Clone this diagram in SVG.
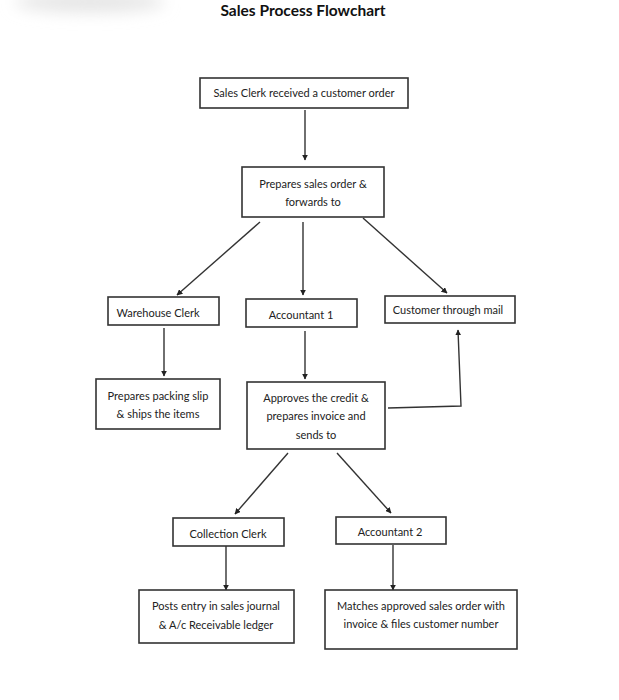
<svg xmlns="http://www.w3.org/2000/svg" width="619" height="700" viewBox="0 0 619 700">
<style>
.box{fill:#fff;stroke:#333;stroke-width:1.6}
.t{font-family:Lato,"Open Sans",sans-serif;font-size:11px;fill:#222;text-anchor:middle;dominant-baseline:central}
.title{font-family:Lato,"Open Sans",sans-serif;font-size:15.5px;font-weight:bold;fill:#111;text-anchor:middle}
.c{fill:none;stroke:#333;stroke-width:1.4;marker-end:url(#ah)}
</style>
<defs>
<marker id="ah" viewBox="0 0 10 10" refX="9" refY="5" markerWidth="6" markerHeight="6" markerUnits="userSpaceOnUse" orient="auto">
<path d="M0,0 L10,5 L0,10 z" fill="#222"/>
</marker>
<filter id="blur" x="-50%" y="-200%" width="200%" height="500%"><feGaussianBlur stdDeviation="8"/></filter>
</defs>
<rect width="619" height="700" fill="#fff"/>
<ellipse cx="90" cy="2" rx="75" ry="10" fill="#e4e4e4" filter="url(#blur)"/>
<text class="title" x="303" y="16">Sales Process Flowchart</text>
<g id="connectors">
<line class="c" x1="305" y1="110" x2="305" y2="160"/>
<line class="c" x1="260" y1="222" x2="177" y2="295"/>
<line class="c" x1="303" y1="222" x2="303" y2="295"/>
<line class="c" x1="363" y1="218" x2="447" y2="293"/>
<line class="c" x1="164" y1="328" x2="164" y2="376"/>
<line class="c" x1="305" y1="331" x2="305" y2="379"/>
<polyline class="c" points="388,408 461,406 458,330"/>
<line class="c" x1="288" y1="453" x2="235" y2="514"/>
<line class="c" x1="337" y1="453" x2="391" y2="513"/>
<line class="c" x1="226" y1="546" x2="226" y2="590"/>
<line class="c" x1="393" y1="545" x2="393" y2="590"/>
</g>
<g id="n1"><rect class="box" x="200" y="78" width="208" height="30"/><text class="t" x="304" y="92">Sales Clerk received a customer order</text></g>
<g id="n2"><rect class="box" x="242" y="167" width="142" height="50"/><text class="t" x="313" y="183">Prepares sales order &amp;</text><text class="t" x="313" y="201">forwards to</text></g>
<g id="n3"><rect class="box" x="108" y="297" width="111" height="28"/><text class="t" x="158" y="312">Warehouse Clerk</text></g>
<g id="n4"><rect class="box" x="246" y="299" width="111" height="28"/><text class="t" x="301" y="314">Accountant 1</text></g>
<g id="n5"><rect class="box" x="385" y="296" width="130" height="27"/><text class="t" x="448" y="309">Customer through mail</text></g>
<g id="n6"><rect class="box" x="96" y="379" width="124" height="50"/><text class="t" x="158" y="395">Prepares packing slip</text><text class="t" x="158" y="413">&amp; ships the items</text></g>
<g id="n7"><rect class="box" x="247" y="382" width="138" height="67"/><text class="t" x="316" y="397">Approves the credit &amp;</text><text class="t" x="316" y="415">prepares invoice and</text><text class="t" x="316" y="434">sends to</text></g>
<g id="n8"><rect class="box" x="173" y="518" width="111" height="28"/><text class="t" x="228" y="533">Collection Clerk</text></g>
<g id="n9"><rect class="box" x="336" y="517" width="110" height="27"/><text class="t" x="390" y="531">Accountant 2</text></g>
<g id="n10"><rect class="box" x="139" y="590" width="155" height="53"/><text class="t" x="216" y="605">Posts entry in sales journal</text><text class="t" x="216" y="624">&amp; A/c Receivable ledger</text></g>
<g id="n11"><rect class="box" x="325" y="590" width="192" height="59"/><text class="t" x="421" y="605">Matches approved sales order with</text><text class="t" x="421" y="623">invoice &amp; files customer number</text></g>
</svg>
